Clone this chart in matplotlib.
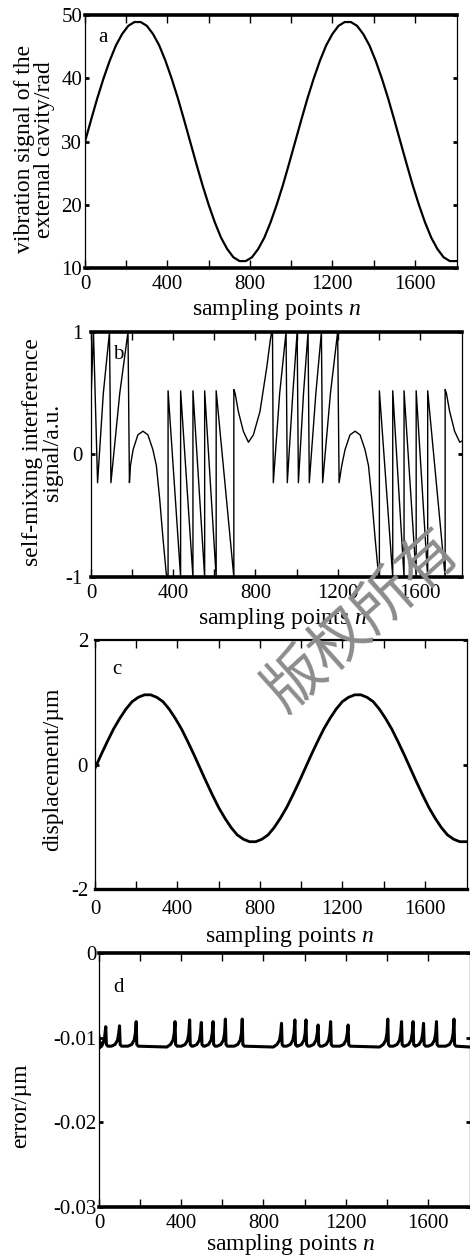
import matplotlib
matplotlib.use("Agg")
import matplotlib.pyplot as plt

plt.rcParams['font.family'] = ['Liberation Serif', 'DejaVu Serif']
plt.rcParams['mathtext.fontset'] = 'custom'
plt.rcParams['mathtext.it'] = 'Liberation Serif:italic'
plt.rcParams['mathtext.rm'] = 'Liberation Serif'
plt.rcParams['axes.unicode_minus'] = False

# ---- data ----
# (a) vibration phase of the external cavity, every 30 samples
a_n = list(range(0, 1801, 30))
a_phase = [30.0, 33.5, 36.9, 40.0, 42.8, 45.2, 47.0, 48.3, 48.9, 48.9,
           48.3, 47.0, 45.2, 42.8, 40.0, 36.9, 33.5, 30.0, 26.5, 23.1,
           20.0, 17.2, 14.8, 13.0, 11.7, 11.1, 11.1, 11.7, 13.0, 14.8,
           17.2, 20.0, 23.1, 26.5, 30.0, 33.5, 36.9, 40.0, 42.8, 45.2,
           47.0, 48.3, 48.9, 48.9, 48.3, 47.0, 45.2, 42.8, 40.0, 36.9,
           33.5, 30.0, 26.5, 23.1, 20.0, 17.2, 14.8, 13.0, 11.7, 11.1,
           11.1]

# (b) self-mixing signal, polyline vertices
b_n = [0, 12, 32, 60, 90, 97, 140, 180, 187,
       192, 205, 228, 253, 277, 301, 318, 334, 350, 366, 370,
       375, 375, 436, 436, 496, 496, 553, 553, 609, 609, 695, 695,
       701, 717, 741, 766, 790, 822, 855, 872, 879, 883, 887,
       918, 949, 955, 982, 1003, 1009, 1034, 1056, 1062,
       1094, 1121, 1127, 1165, 1200, 1207,
       1220, 1236, 1260, 1285, 1309, 1333, 1350, 1366, 1382, 1398, 1400,
       1403, 1403, 1468, 1468, 1523, 1523, 1582, 1582, 1638, 1638,
       1723, 1723, 1729, 1745, 1769, 1794, 1805]
b_sig = [0.45, 1.0, -0.23, 0.50, 1.0, -0.23, 0.50, 1.0, -0.23,
         -0.09, 0.04, 0.16, 0.19, 0.16, 0.04, -0.09, -0.36, -0.68, -0.97, -1.0,
         -1.0, 0.52, -1.0, 0.52, -1.0, 0.52, -1.0, 0.52, -1.0, 0.52, -1.0, 0.53,
         0.50, 0.35, 0.19, 0.10, 0.16, 0.35, 0.71, 0.93, 1.0, 1.0, -0.23,
         0.50, 1.0, -0.23, 0.50, 1.0, -0.23, 0.50, 1.0, -0.23,
         0.50, 1.0, -0.23, 0.50, 1.0, -0.23,
         -0.09, 0.04, 0.16, 0.19, 0.16, 0.04, -0.09, -0.36, -0.68, -0.97, -1.0,
         -1.0, 0.52, -1.0, 0.52, -1.0, 0.52, -1.0, 0.52, -1.0, 0.52,
         -1.0, 0.53, 0.50, 0.35, 0.19, 0.10, 0.11]

# (c) reconstructed displacement, every 30 samples
c_n = list(range(0, 1801, 30))
c_disp = [-0.06, 0.16, 0.37, 0.57, 0.74, 0.89, 1.01, 1.08, 1.12, 1.12,
          1.08, 1.01, 0.89, 0.74, 0.57, 0.37, 0.16, -0.06, -0.28, -0.49,
          -0.69, -0.86, -1.01, -1.13, -1.20, -1.24, -1.24, -1.20, -1.13, -1.01,
          -0.86, -0.69, -0.49, -0.28, -0.06, 0.16, 0.37, 0.57, 0.74, 0.89,
          1.01, 1.08, 1.12, 1.12, 1.08, 1.01, 0.89, 0.74, 0.57, 0.37,
          0.16, -0.06, -0.28, -0.49, -0.69, -0.86, -1.01, -1.13, -1.20, -1.24,
          -1.24]

# (d) reconstruction error, polyline vertices
d_n = [0, 4, 8, 13, 20, 27, 33, 36, 43,
       60, 78, 90, 96, 100, 103, 110,
       141, 159, 171, 177, 181, 184, 191,
       330, 348, 360, 366, 370, 373, 380,
       401, 419, 431, 437, 441, 444, 451,
       458, 476, 488, 494, 498, 501, 508,
       515, 533, 545, 551, 555, 558, 565,
       575, 593, 605, 611, 615, 618, 625,
       657, 675, 687, 693, 697, 700, 707,
       848, 866, 878, 884, 888, 891, 898,
       913, 931, 943, 949, 953, 956, 963,
       967, 985, 997, 1003, 1007, 1010, 1017,
       1026, 1044, 1056, 1062, 1066, 1069, 1076,
       1087, 1105, 1117, 1123, 1127, 1130, 1137,
       1172, 1190, 1202, 1208, 1212, 1215, 1222,
       1365, 1383, 1395, 1401, 1405, 1408, 1415,
       1432, 1450, 1462, 1468, 1472, 1475, 1482,
       1488, 1506, 1518, 1524, 1528, 1531, 1538,
       1539, 1557, 1569, 1575, 1579, 1582, 1589,
       1602, 1620, 1632, 1638, 1642, 1645, 1652,
       1687, 1705, 1717, 1723, 1727, 1730, 1737,
       1805]
d_err = [-0.0098, -0.0112, -0.0106, -0.0110, -0.0106, -0.0100, -0.0087, -0.0108, -0.0110,
         -0.0110, -0.0108, -0.0103, -0.0095, -0.0086, -0.0108, -0.0110,
         -0.0110, -0.0108, -0.0103, -0.0095, -0.0081, -0.0108, -0.0110,
         -0.0111, -0.0108, -0.0103, -0.0095, -0.0081, -0.0108, -0.0110,
         -0.0110, -0.0108, -0.0103, -0.0095, -0.0079, -0.0108, -0.0110,
         -0.0110, -0.0108, -0.0103, -0.0095, -0.0082, -0.0108, -0.0110,
         -0.0110, -0.0108, -0.0103, -0.0095, -0.0081, -0.0108, -0.0110,
         -0.0110, -0.0108, -0.0103, -0.0095, -0.0078, -0.0108, -0.0110,
         -0.0110, -0.0108, -0.0103, -0.0095, -0.0078, -0.0108, -0.0110,
         -0.0111, -0.0108, -0.0103, -0.0095, -0.0083, -0.0108, -0.0110,
         -0.0110, -0.0108, -0.0103, -0.0095, -0.0079, -0.0108, -0.0110,
         -0.0110, -0.0108, -0.0103, -0.0095, -0.0079, -0.0108, -0.0110,
         -0.0110, -0.0108, -0.0103, -0.0095, -0.0085, -0.0108, -0.0110,
         -0.0110, -0.0108, -0.0103, -0.0095, -0.0081, -0.0108, -0.0110,
         -0.0110, -0.0108, -0.0103, -0.0095, -0.0085, -0.0108, -0.0110,
         -0.0111, -0.0108, -0.0103, -0.0095, -0.0078, -0.0108, -0.0110,
         -0.0110, -0.0108, -0.0103, -0.0095, -0.0081, -0.0108, -0.0110,
         -0.0110, -0.0108, -0.0103, -0.0095, -0.0081, -0.0108, -0.0110,
         -0.0110, -0.0108, -0.0103, -0.0095, -0.0083, -0.0108, -0.0110,
         -0.0110, -0.0108, -0.0103, -0.0095, -0.0081, -0.0108, -0.0110,
         -0.0110, -0.0108, -0.0103, -0.0095, -0.0078, -0.0108, -0.0110,
         -0.0111]

x_major = [0, 400, 800, 1200, 1600]
x_minor = [200, 600, 1000, 1400]
XMAX = 1805


def style(ax, top_lw=2.6, bottom_lw=2.6):
    ax.set_xlim(0, XMAX)
    ax.set_xticks(x_major)
    ax.set_xticks(x_minor, minor=True)
    for s in ('left', 'right'):
        ax.spines[s].set_linewidth(0.9)
    ax.spines['top'].set_linewidth(top_lw)
    ax.spines['bottom'].set_linewidth(bottom_lw)
    ax.tick_params(axis='x', which='both', direction='in', top=True, bottom=True,
                   length=6, width=1.0, labelsize=15, pad=5)
    ax.tick_params(axis='y', direction='in', left=True, right=True,
                   length=3, width=2.0, labelsize=15, pad=2)


fig = plt.figure(figsize=(4.7, 12.56), dpi=100)

# ---- panel a ----
ax = fig.add_axes([0.1809, 0.7866, 0.7915, 0.2014])
ax.plot(a_n, a_phase, color='black', lw=1.6)
ax.set_ylim(10, 50)
ax.set_yticks([10, 20, 30, 40, 50])
style(ax)
ax.set_ylabel('vibration signal of the\nexternal cavity/rad', fontsize=17, linespacing=0.95)
ax.yaxis.set_label_coords(-0.08, 0.47)
ax.set_xlabel('sampling points $n$', fontsize=17)
ax.xaxis.set_label_coords(0.516, -0.115)
ax.text(0.035, 0.91, 'a', transform=ax.transAxes, fontsize=15, va='center')

# ---- panel b ----
ax = fig.add_axes([0.1936, 0.5406, 0.7894, 0.1951])
ax.plot(b_n, b_sig, color='black', lw=1.0)
ax.set_ylim(-1, 1)
ax.set_yticks([-1, 0, 1])
style(ax)
ax.tick_params(axis='y', pad=6)
ax.set_ylabel('self-mixing interference\nsignal/a.u.', fontsize=17, linespacing=0.95)
ax.yaxis.set_label_coords(-0.075, 0.51)
ax.set_xlabel('sampling points $n$', fontsize=17)
ax.xaxis.set_label_coords(0.516, -0.12)
ax.text(0.059, 0.91, 'b', transform=ax.transAxes, fontsize=15, va='center')

# ---- panel c ----
ax = fig.add_axes([0.2021, 0.2922, 0.7915, 0.1982])
ax.plot(c_n, c_disp, color='black', lw=2.0)
ax.set_ylim(-2, 2)
ax.set_yticks([-2, 0, 2])
style(ax, top_lw=1.6, bottom_lw=2.4)
ax.tick_params(axis='y', pad=5)
ax.tick_params(axis='x', which='both', pad=8)
ax.set_ylabel('displacement/µm', fontsize=17)
ax.yaxis.set_label_coords(-0.086, 0.48)
ax.set_xlabel('sampling points $n$', fontsize=17)
ax.xaxis.set_label_coords(0.524, -0.14)
ax.text(0.046, 0.883, 'c', transform=ax.transAxes, fontsize=15, va='center')

# ---- panel d ----
ax = fig.add_axes([0.2106, 0.0390, 0.7894, 0.2022])
ax.plot(d_n, d_err, color='black', lw=2.2)
ax.set_ylim(-0.03, 0)
ax.set_yticks([-0.03, -0.02, -0.01, 0])
ax.set_yticklabels(['-0.03', '-0.02', '-0.01', '0'])
style(ax)
ax.set_ylabel('error/µm', fontsize=17)
ax.yaxis.set_label_coords(-0.183, 0.40)
ax.set_xlabel('sampling points $n$', fontsize=17)
ax.xaxis.set_label_coords(0.515, -0.10)
ax.text(0.038, 0.866, 'd', transform=ax.transAxes, fontsize=15, va='center')

# publisher watermark
fig.text(0.772, 0.506, '版权所有', rotation=42, fontsize=43, color='#8c8c8c',
         family=['Noto Sans CJK SC', 'DejaVu Sans'], ha='center', va='center', zorder=10)

fig.savefig('out.png', dpi=100)
